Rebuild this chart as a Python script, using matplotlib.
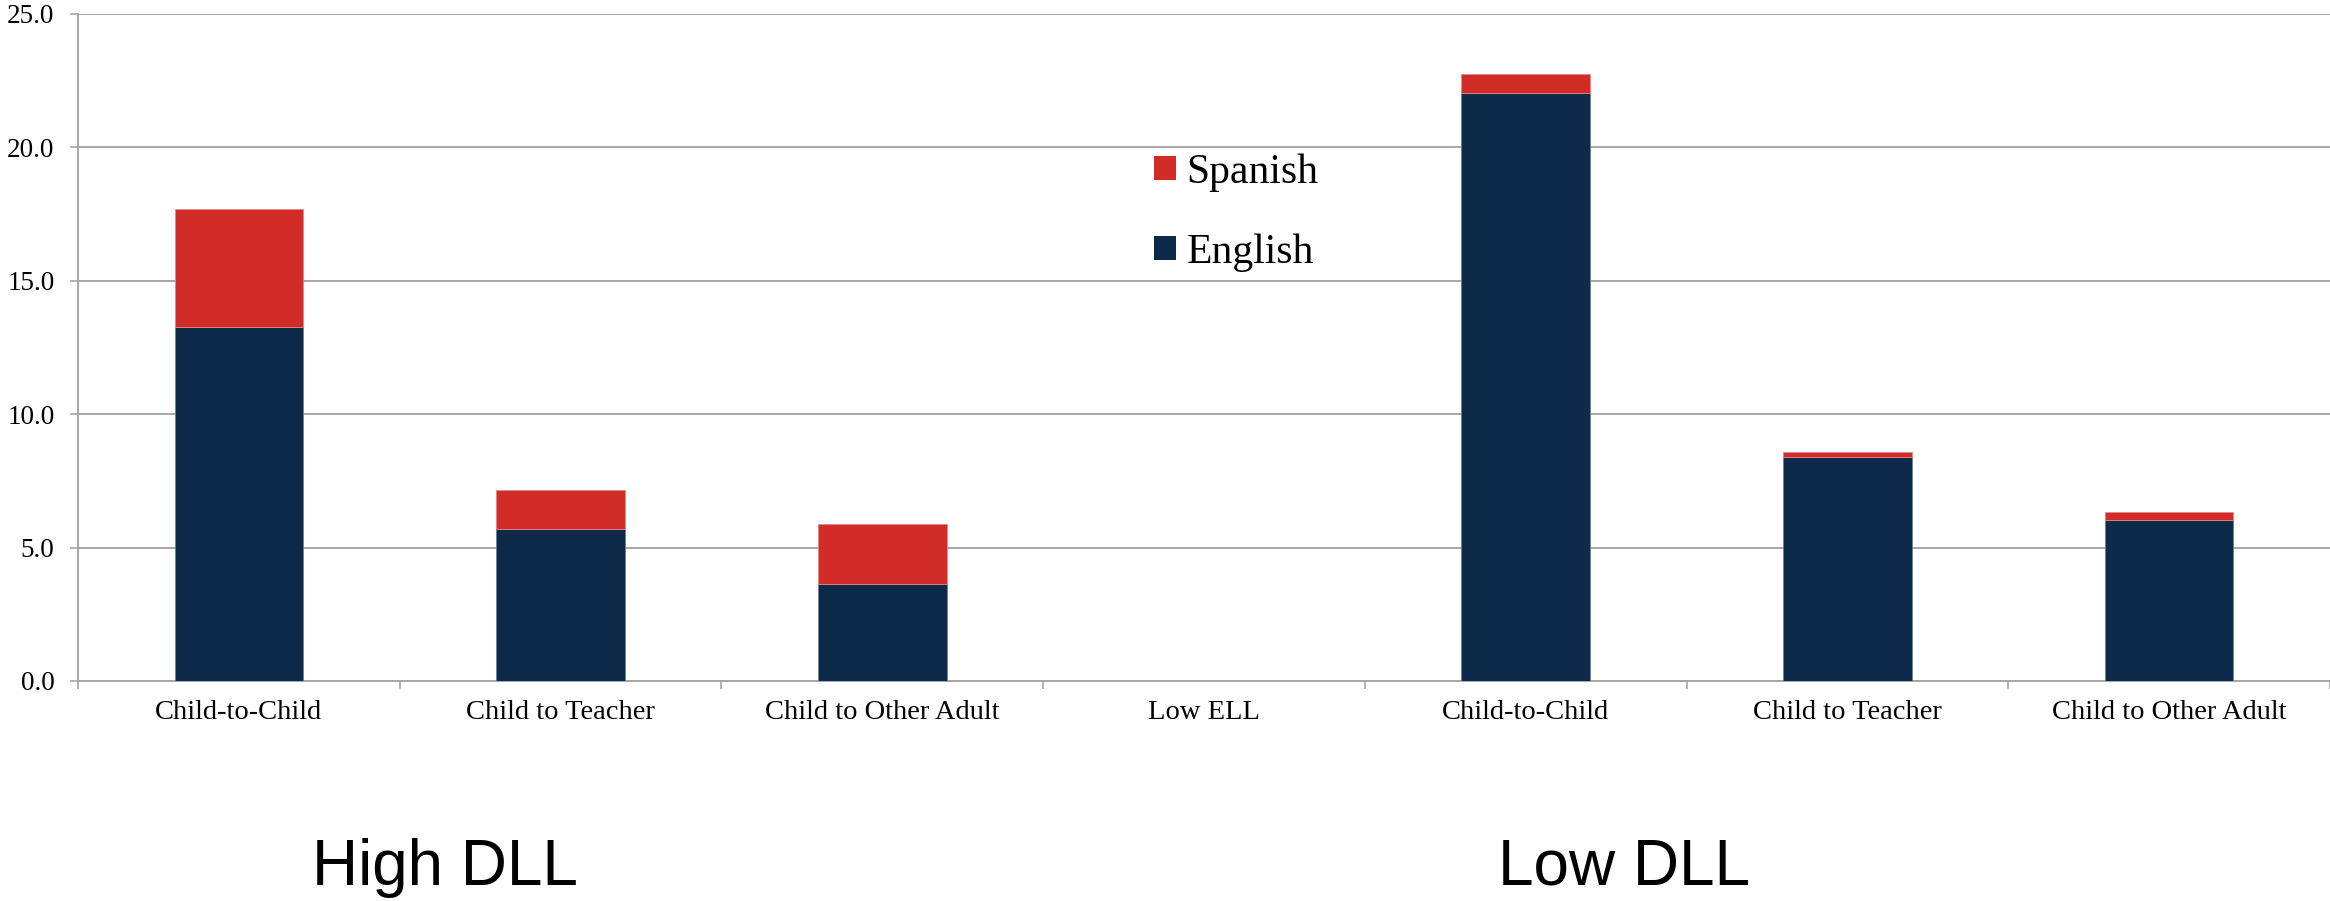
import matplotlib
matplotlib.use("Agg")
import matplotlib.pyplot as plt
from matplotlib.patches import Patch
import numpy as np

categories = ["Child-to-Child", "Child to Teacher", "Child to Other Adult", "Low ELL",
              "Child-to-Child", "Child to Teacher", "Child to Other Adult"]
english = [13.28, 5.71, 3.65, 0.0, 22.04, 8.38, 6.05]
spanish = [4.40, 1.45, 2.23, 0.0, 0.71, 0.21, 0.27]
group_labels = ["High DLL", "Low DLL"]

navy = "#0d2a4a"
red = "#d12c28"
grid_grey = "#a6a6a6"
serif = "Liberation Serif"

fig = plt.figure(figsize=(23.3, 9.01), dpi=100)
ax = fig.add_axes([0.0335, 0.2442, 0.9665, 0.7403])

x = np.arange(len(categories))
ax.bar(x, english, width=0.4, color=navy, edgecolor="#6f7f95", linewidth=0.6, zorder=3)
ax.bar(x, spanish, width=0.4, bottom=english, color=red, edgecolor="#e48785",
       linewidth=0.6, zorder=3)

ax.set_xlim(-0.5, len(categories) - 0.5)
ax.set_ylim(0, 25)
ax.set_yticks(np.arange(0, 25.1, 5))
ax.set_yticklabels([f"{v:.1f}" for v in np.arange(0, 25.1, 5)], fontfamily=serif, fontsize=19.5)
ax.yaxis.grid(True, color=grid_grey, linewidth=1.4, zorder=0)
ax.tick_params(axis="y", length=6, width=1.2, color=grid_grey, pad=11)

ax.set_xticks(x)
ax.set_xticklabels(categories, fontfamily=serif, fontsize=20.5)
ax.set_xticks(np.arange(-0.5, len(categories)), minor=True)
ax.tick_params(axis="x", which="major", length=0, pad=14)
ax.tick_params(axis="x", which="minor", length=6, width=1.2, color=grid_grey)

for side in ["top", "right"]:
    ax.spines[side].set_visible(False)
for side in ["left", "bottom"]:
    ax.spines[side].set_color(grid_grey)
    ax.spines[side].set_linewidth(1.4)

handles = [Patch(facecolor=red, label="Spanish"), Patch(facecolor=navy, label="English")]
fig.legend(handles=handles, loc="upper left", bbox_to_anchor=(0.4953, 0.830),
           frameon=False, prop={"family": serif, "size": 30}, handlelength=0.53,
           handleheight=0.53, handletextpad=0.25, labelspacing=1.0,
           borderpad=0, borderaxespad=0)

fig.text(0.191, 0.0178, group_labels[0], fontfamily="Liberation Sans", fontsize=46,
         ha="center", va="baseline")
fig.text(0.697, 0.0178, group_labels[1], fontfamily="Liberation Sans", fontsize=46,
         ha="center", va="baseline")

fig.savefig("out.png", dpi=100)
